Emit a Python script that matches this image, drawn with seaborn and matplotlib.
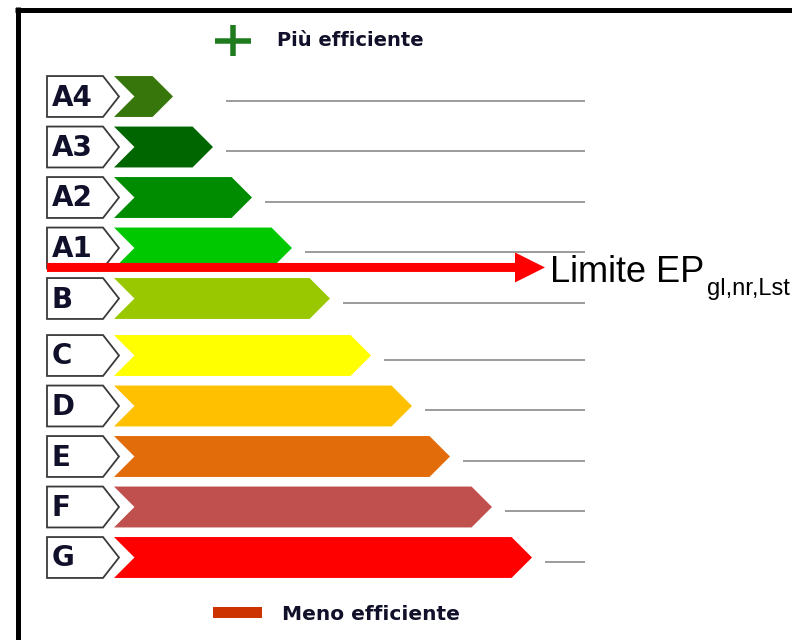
import matplotlib
matplotlib.use("Agg")
import matplotlib.pyplot as plt
from matplotlib.patches import Polygon, Rectangle, FancyArrow
import seaborn as sns
import pandas as pd

# ---- data ----
classes = ["A4", "A3", "A2", "A1", "B", "C", "D", "E", "F", "G"]
bar_length = [59, 99, 138, 178, 216, 257, 298, 336, 378, 418]
class_colors = ["#37760a", "#006600", "#008c00", "#00c800", "#99c800",
                "#ffff00", "#ffc000", "#e36c0a", "#c0504d", "#ff0000"]
top_label = "Più efficiente"
bottom_label = "Meno efficiente"
limit_label = "Limite EP"
limit_sub = "gl,nr,Lst"
limit_after = "A1"

# ---- layout constants (pixels) ----
W, H = 792, 640
X0 = 114          # left edge of the arrows
ROW0, PITCH, GAP = 96.5, 50.5, 6.5
LINE_END = 585
TXT = "#10102a"

rows = [ROW0 + PITCH * i + (GAP if i >= 5 else 0) for i in range(len(classes))]
df = pd.DataFrame({"cls": classes, "length": bar_length, "ypos": rows})

sns.set_theme(style="white")
plt.rcParams["font.family"] = ["DejaVu Sans"]

fig = plt.figure(figsize=(W / 100, H / 100), dpi=100)
ax = fig.add_axes([0, 0, 1, 1])

sns.barplot(data=df, x="length", y="ypos", hue="cls", palette=class_colors,
            orient="y", native_scale=True, dodge=False, errorbar=None,
            width=0.81, saturation=1, legend=False, ax=ax)

ax.set_xlim(0, W)
ax.set_ylim(H, 0)
ax.axis("off")

# convert bars to arrow shapes
bars = [p for p in ax.patches]
tips = {}
for p in bars:
    x, y, w, h = p.get_x(), p.get_y(), p.get_width(), p.get_height()
    if w <= 0:
        p.remove()
        continue
    fc = p.get_facecolor()
    top, bot, mid = y, y + h, y + h / 2
    d = h / 2
    x0, x1 = X0 + x, X0 + x + w
    poly = Polygon([(x0, top), (x1 - d, top), (x1, mid), (x1 - d, bot),
                    (x0, bot), (x0 + d, mid)], closed=True, facecolor=fc,
                   edgecolor="none", zorder=3)
    p.remove()
    ax.add_patch(poly)
    tips[round(mid, 1)] = (x1, top, bot, mid)

for i, cls in enumerate(classes):
    x1, top, bot, mid = tips[round(rows[i], 1)]
    # label box
    box = Polygon([(47, top), (103, top), (119, mid), (103, bot), (47, bot)],
                  closed=True, facecolor="white", edgecolor="#3a3a3a",
                  linewidth=1.3, zorder=3)
    ax.add_patch(box)
    ax.text(52, mid + 1, cls, fontsize=20, fontweight="bold", color=TXT,
            ha="left", va="center", zorder=4)
    # grey reference line
    start = max(x1 + 13, 226)
    ax.plot([start, LINE_END], [mid + 4, mid + 4], color="#808080",
            linewidth=1.1, solid_capstyle="butt", zorder=2)

# limit arrow (between A1 and B)
ia = classes.index(limit_after)
_, _, bot_a, _ = tips[round(rows[ia], 1)]
ya = bot_a - 1
arr = FancyArrow(47, ya, 498, 0, width=9, head_width=30, head_length=30,
                 length_includes_head=True, facecolor="#ff0000",
                 edgecolor="none", zorder=6)
ax.add_patch(arr)
t = ax.text(550, 282, limit_label, fontsize=26, family="Liberation Sans",
            color="black", ha="left", va="baseline", zorder=6)
fig.canvas.draw()
bb = t.get_window_extent(fig.canvas.get_renderer())
ax.text(bb.x1 + 3, 295, limit_sub, fontsize=17, family="Liberation Sans",
        color="black", ha="left", va="baseline", zorder=6)

# top legend: plus sign + text
plus_c = "#1e7b1e"
ax.plot([215, 251], [40.5, 40.5], color=plus_c, linewidth=5.5 * 0.72,
        solid_capstyle="butt", zorder=3)
ax.plot([233, 233], [25, 56], color=plus_c, linewidth=5.5 * 0.72,
        solid_capstyle="butt", zorder=3)
ax.text(277, 40, top_label, fontsize=14, fontweight="bold", color=TXT,
        ha="left", va="center", zorder=3)

# bottom legend
ax.add_patch(Rectangle((213, 607), 49, 11, facecolor="#cc3300",
                       edgecolor="none", zorder=3))
ax.text(282, 614, bottom_label, fontsize=14.5, fontweight="bold", color=TXT,
        ha="left", va="center", zorder=3)

# frame (top and left borders)
ax.plot([15, W], [9.5, 9.5], color="black", linewidth=5 * 0.72,
        solid_capstyle="butt", zorder=7)
ax.plot([17.5, 17.5], [7, H], color="black", linewidth=5 * 0.72,
        solid_capstyle="butt", zorder=7)

fig.savefig("out.png", dpi=100)
